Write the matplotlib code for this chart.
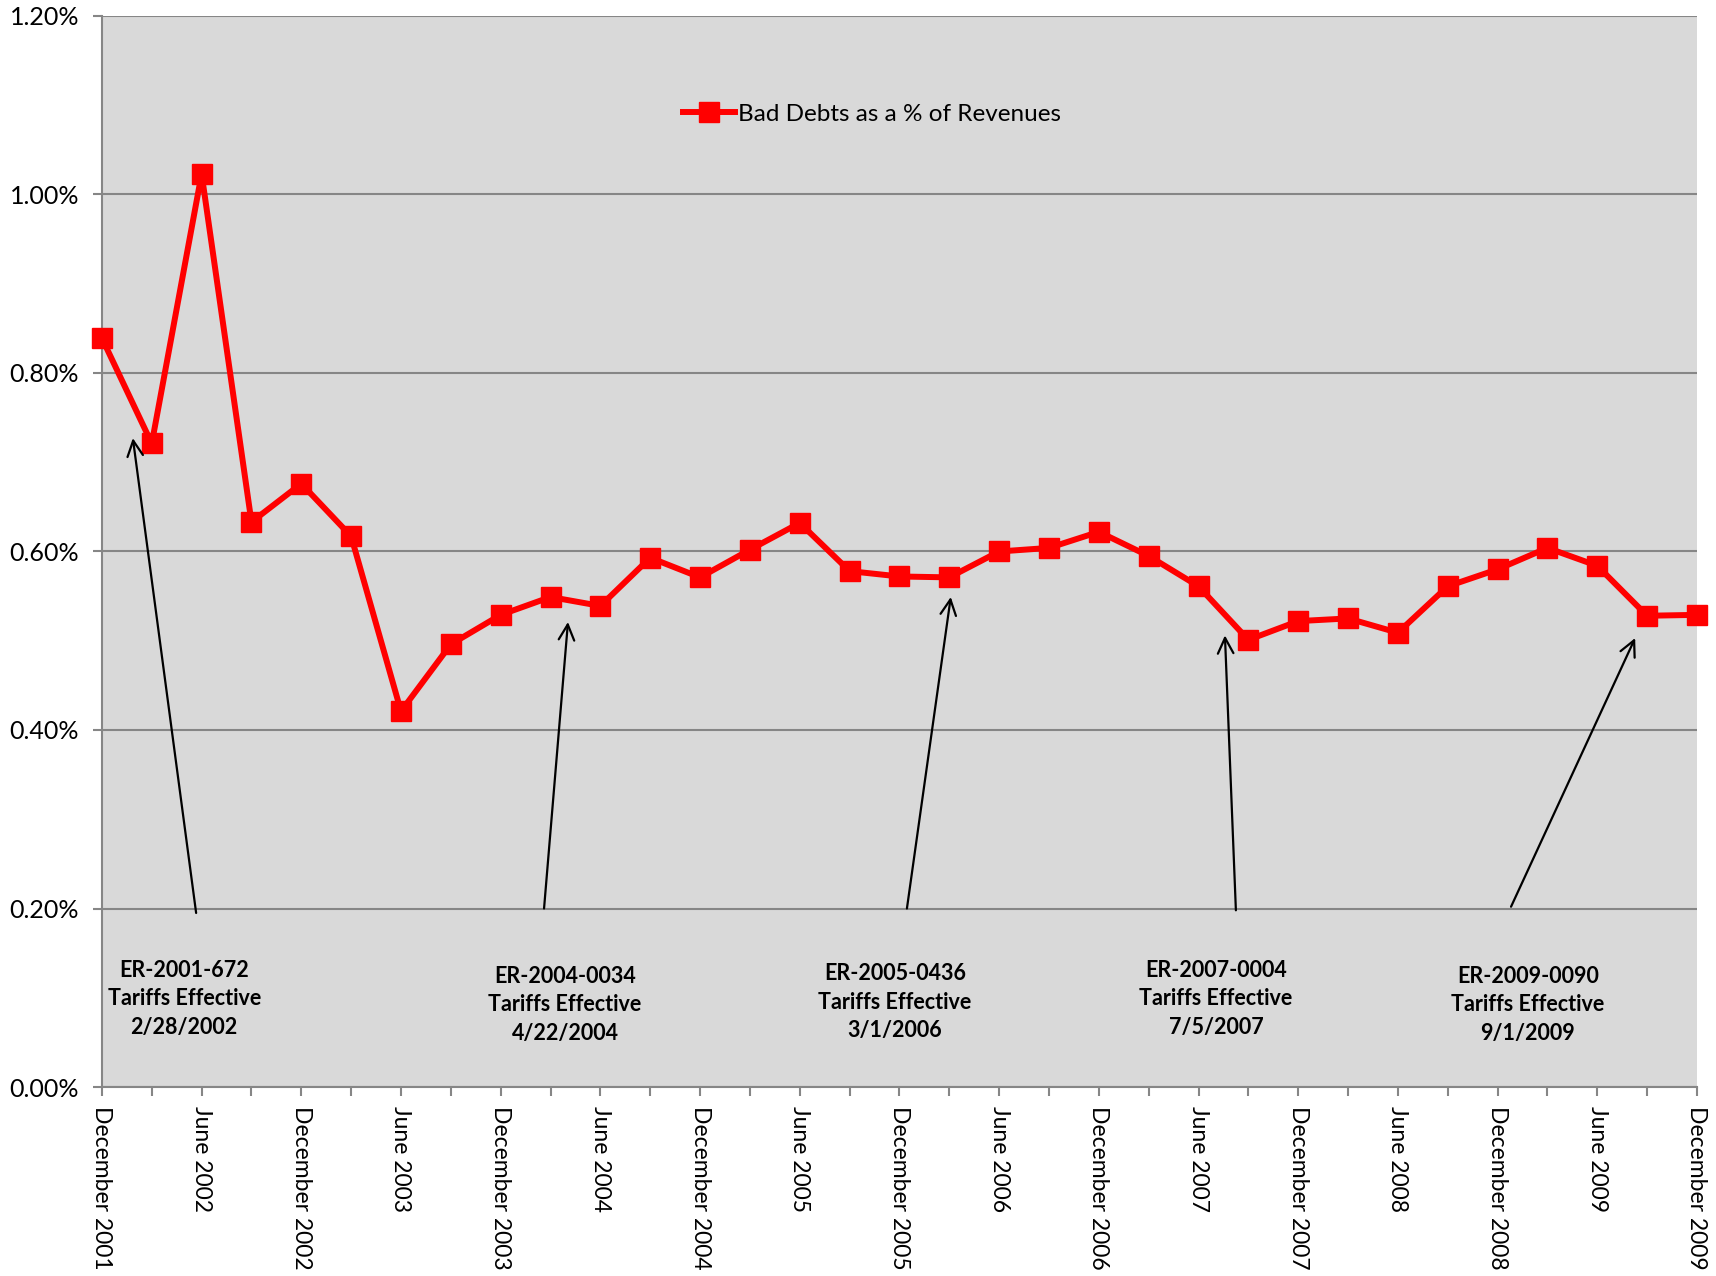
import numpy as np
import matplotlib
matplotlib.use('Agg')
import matplotlib.pyplot as plt
from matplotlib.ticker import PercentFormatter, FixedLocator

plt.rcParams['font.family'] = ['Lato', 'DejaVu Sans']

# quarterly bad debts as a % of revenues, Dec 2001 .. Dec 2009
quarters = ['December 2001', 'March 2002', 'June 2002', 'September 2002',
            'December 2002', 'March 2003', 'June 2003', 'September 2003',
            'December 2003', 'March 2004', 'June 2004', 'September 2004',
            'December 2004', 'March 2005', 'June 2005', 'September 2005',
            'December 2005', 'March 2006', 'June 2006', 'September 2006',
            'December 2006', 'March 2007', 'June 2007', 'September 2007',
            'December 2007', 'March 2008', 'June 2008', 'September 2008',
            'December 2008', 'March 2009', 'June 2009', 'September 2009',
            'December 2009']
bad_debts = [0.839, 0.721, 1.023, 0.633, 0.676, 0.617, 0.421, 0.496,
             0.529, 0.549, 0.539, 0.593, 0.571, 0.602, 0.632, 0.578,
             0.572, 0.571, 0.600, 0.604, 0.622, 0.595, 0.561, 0.501,
             0.522, 0.525, 0.509, 0.561, 0.580, 0.604, 0.584, 0.528,
             0.529]

# tariff notes: text, text position, arrow tail, arrow head (quarter index, %)
notes = ['ER-2001-672\nTariffs Effective\n2/28/2002',
         'ER-2004-0034\nTariffs Effective\n4/22/2004',
         'ER-2005-0436\nTariffs Effective\n3/1/2006',
         'ER-2007-0004\nTariffs Effective\n7/5/2007',
         'ER-2009-0090\nTariffs Effective\n9/1/2009']
note_pos = [(1.65, 0.099), (9.29, 0.092), (15.91, 0.095), (22.35, 0.099), (28.61, 0.092)]
arrow_tail = [(1.89, 0.195), (8.87, 0.200), (16.15, 0.200), (22.75, 0.198), (28.27, 0.202)]
arrow_head = [(0.62, 0.727), (9.35, 0.521), (17.03, 0.549), (22.53, 0.506), (30.76, 0.503)]


def main():
    fig = plt.figure(figsize=(17.16, 12.76), dpi=100)
    ax = fig.add_axes([0.0594, 0.1481, 0.9295, 0.8394])
    ax.set_facecolor('#d9d9d9')

    x = np.arange(len(quarters))
    ax.plot(x, bad_debts, color='#ff0000', lw=4.3, marker='s', markersize=15,
            label='Bad Debts as a % of Revenues', zorder=3, clip_on=False)

    ax.set_xlim(0, len(quarters) - 1)
    ax.set_ylim(0, 1.2)
    ax.set_yticks(np.arange(0, 1.21, 0.2))
    ax.yaxis.set_major_formatter(PercentFormatter(xmax=100, decimals=2))
    ax.grid(axis='y', color='#868686', lw=1.5, zorder=1)

    ax.xaxis.set_major_locator(FixedLocator(x[::2]))
    ax.xaxis.set_minor_locator(FixedLocator(x[1::2]))
    ax.set_xticklabels(quarters[::2], rotation=-90, ha='center', va='top')

    for s in ['top', 'right']:
        ax.spines[s].set_visible(False)
    for s in ['left', 'bottom']:
        ax.spines[s].set_color('#868686')
        ax.spines[s].set_linewidth(1.5)
    ax.tick_params(axis='both', which='both', color='#868686', width=1.5,
                   length=6.5)
    ax.tick_params(axis='x', pad=7, labelsize=16.5)
    ax.tick_params(axis='y', pad=10, labelsize=18)

    for txt, pos, tail, head in zip(notes, note_pos, arrow_tail, arrow_head):
        ax.annotate('', xy=head, xytext=tail,
                    arrowprops=dict(arrowstyle='->', color='black', lw=1.6,
                                    mutation_scale=28, shrinkA=0, shrinkB=0))
        ax.text(pos[0], pos[1], txt, ha='center', va='center', fontsize=15.5,
                fontweight='bold', linespacing=1.45)

    ax.legend(loc='center', bbox_to_anchor=(0.483, 0.908), frameon=False,
              fontsize=17.5, handlelength=2.1, handletextpad=0.15)

    fig.savefig('out.png', dpi=100)


if __name__ == '__main__':
    main()
